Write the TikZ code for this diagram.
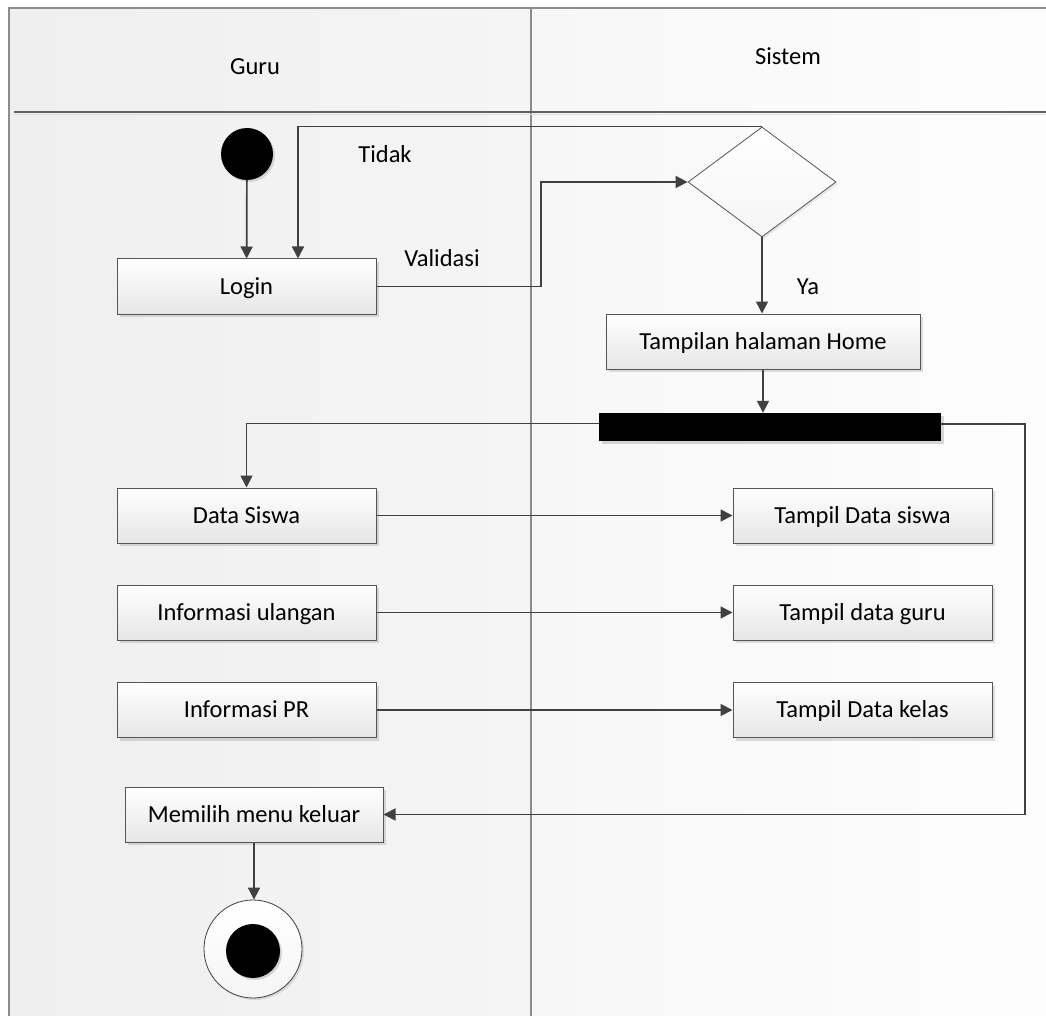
\documentclass[tikz,border=0pt]{standalone}
\usepackage{fontspec}
\setmainfont{Carlito}
\usetikzlibrary{arrows.meta,shapes.geometric,shadows}
\definecolor{linec}{HTML}{404040}
\definecolor{boxline}{HTML}{555555}
\definecolor{boxbot}{HTML}{E6E6E6}
\definecolor{laneA}{HTML}{EFEFEF}
\definecolor{laneB}{HTML}{F5F5F5}
\definecolor{laneC}{HTML}{F7F7F7}
\definecolor{laneD}{HTML}{FDFDFD}
\definecolor{frame}{HTML}{8C8C8C}
\begin{document}
\begin{tikzpicture}[x=1pt,y=-1pt,
  font=\fontsize{24.5}{28}\selectfont,
  actbox/.style={rectangle, draw=boxline, line width=1pt,
    top color=white, bottom color=boxbot,
    minimum width=259pt, minimum height=55pt, inner sep=0pt,
    text height=15.5pt, text depth=0pt,
    drop shadow={shadow xshift=3pt, shadow yshift=-3pt, fill=black, opacity=0.12}},
  flow/.style={draw=linec, line width=1.7pt, -{Triangle[length=12pt,width=12pt]}},
  lbl/.style={inner sep=0pt, text=black, text height=15.5pt, text depth=0pt}]

\useasboundingbox (0,0) rectangle (1046,1016);
\fill[white] (0,0) rectangle (1046,1016);

% swimlane backgrounds
\shade[left color=laneA, right color=laneB] (9,8) rectangle (531,1016);
\shade[left color=laneC, right color=laneD] (531,8) rectangle (1046,1016);

% lane frame, divider and header rule
\draw[frame, line width=1.5pt] (9,1016) -- (9,8) -- (1046,8);
\draw[frame, line width=1.5pt] (531,8) -- (531,1016);
\draw[black!12, line width=1.5pt] (14,114.5) -- (1046,114.5);
\draw[black!62, line width=1.3pt] (14,112) -- (1046,112);

% lane titles
\node[lbl] (guru) at (255,67) {Guru};
\node[lbl] (sistem) at (788,57) {Sistem};

% start node
\node[circle, fill=black, minimum size=52pt, inner sep=0pt,
  drop shadow={shadow xshift=2pt, shadow yshift=-2pt, fill=black, opacity=0.12}] (start) at (247,154) {};

% activities
\node[actbox] (login) at (246.5,286.5) {Login};
\node[actbox, minimum width=314pt] (home) at (763,341.5) {Tampilan halaman Home};
\node[actbox] (siswa) at (246.5,515.5) {Data Siswa};
\node[actbox] (ulangan) at (246.5,612.5) {Informasi ulangan};
\node[actbox] (pr) at (246.5,710) {Informasi PR};
\node[actbox] (tsiswa) at (862.5,515.5) {Tampil Data siswa};
\node[actbox] (tguru) at (862.5,612.5) {Tampil data guru};
\node[actbox] (tkelas) at (862.5,710) {Tampil Data kelas};
\node[actbox, minimum width=258pt] (keluar) at (254,814.5) {Memilih menu keluar};

% decision
\node[diamond, draw=boxline, line width=0.8pt, top color=white, bottom color=laneB,
  minimum width=148pt, minimum height=110pt, inner sep=0pt,
  drop shadow={shadow xshift=2pt, shadow yshift=-2pt, fill=black, opacity=0.08}] (dec) at (762,182) {};

% fork bar
\node[rectangle, fill=black, minimum width=342pt, minimum height=28pt, inner sep=0pt,
  drop shadow={shadow xshift=3pt, shadow yshift=-3pt, fill=black, opacity=0.15}] (bar) at (770,427) {};

% end node
\node[circle, draw=black!75, line width=0.8pt, top color=white, bottom color=laneB,
  minimum size=98pt, inner sep=0pt,
  drop shadow={shadow xshift=2pt, shadow yshift=-2pt, fill=black, opacity=0.1}] (endo) at (253,949) {};
\node[circle, fill=black, minimum size=54pt, inner sep=0pt,
  drop shadow={shadow xshift=2pt, shadow yshift=-2pt, fill=black, opacity=0.15}] (endi) at (253,951) {};

% guide coordinates for routed connectors
\coordinate (backx) at (298,0);
\coordinate (validx) at (541,0);
\coordinate (rightx) at (1025,0);
\coordinate (barL) at ([yshift=3.5pt]bar.west);
\coordinate (barR) at ([yshift=3pt]bar.east);

% connectors
\draw[flow] (start) -- (login);
\draw[flow] (login.east) -- (validx |- login.east) |- (dec.west);
\draw[flow] (dec.north) -| (backx |- login.north);
\draw[flow] (dec.south) -- (dec.south |- home.north);
\draw[flow] (home.south) -- (home.south |- bar.north);
\draw[flow] (barL) -| (siswa.north);
\draw[flow] (barR) -- (rightx |- barR) |- (keluar.east);
\draw[flow] (siswa) -- (tsiswa);
\draw[flow] (ulangan) -- (tguru);
\draw[flow] (pr) -- (tkelas);
\draw[flow] (keluar) -- (keluar.south |- endo.north);

% guard labels
\node[lbl] (tidak) at (385,155) {Tidak};
\node[lbl] (valid) at (442,259) {Validasi};
\node[lbl] (ya) at (808,287) {Ya};
\end{tikzpicture}
\end{document}
